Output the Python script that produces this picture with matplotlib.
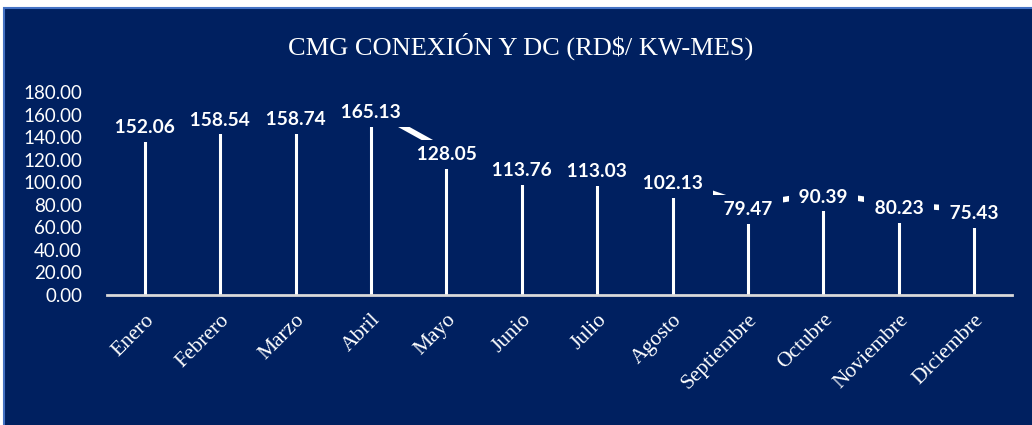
import matplotlib
matplotlib.use("Agg")
import matplotlib.pyplot as plt
from matplotlib.patches import Rectangle

meses = ["Enero", "Febrero", "Marzo", "Abril", "Mayo", "Junio", "Julio",
         "Agosto", "Septiembre", "Octubre", "Noviembre", "Diciembre"]
valores = [152.06, 158.54, 158.74, 165.13, 128.05, 113.76, 113.03,
           102.13, 79.47, 90.39, 80.23, 75.43]
yticks = [0, 20, 40, 60, 80, 100, 120, 140, 160, 180]

navy = "#002060"

fig = plt.figure(figsize=(10.32, 4.25), dpi=100, facecolor="white")
# fondo del area del grafico con borde azul
fondo = Rectangle((4 / 1032, -0.01), 1.0, (425 - 8) / 425 + 0.01,
                  transform=fig.transFigure, facecolor=navy,
                  edgecolor="#4472C4", linewidth=1.5, zorder=-5)
fig.patches.append(fondo)

ax = fig.add_axes([107 / 1032, (425 - 295) / 425, 905 / 1032, 203 / 425])
ax.set_zorder(2)
ax.set_facecolor("none")
x = list(range(len(meses)))

# linea y lineas de caida
ax.plot(x, valores, color="white", lw=4, zorder=2, solid_capstyle="butt")
ax.vlines(x, 0, valores, color="white", lw=2.2, zorder=2)

for xi, v in zip(x, valores):
    ax.annotate(" %.2f " % v, (xi, v), xytext=(0, -4), textcoords="offset pixels",
                ha="center", va="center", color="white", fontsize=13.8,
                fontweight="bold", family="Lato", zorder=4,
                bbox=dict(boxstyle="square,pad=0.3", facecolor=navy, edgecolor="none"))

ax.set_xlim(-0.5, len(meses) - 0.5)
ax.set_ylim(0, 180)
ax.set_yticks(yticks)
ax.set_yticklabels(["%.2f" % t for t in yticks], color="white", fontsize=13.5, family="Lato")
ax.set_xticks(x)
ax.set_xticklabels(meses, rotation=45, ha="right", va="top", color="white",
                   fontsize=15.5, family="Liberation Serif", rotation_mode="anchor")
ax.tick_params(axis="both", length=0)
ax.tick_params(axis="x", pad=11)
ax.tick_params(axis="y", pad=18)
for s in ["top", "right", "left"]:
    ax.spines[s].set_visible(False)
ax.spines["bottom"].set_color("#D9D9D9")
ax.spines["bottom"].set_linewidth(2)
ax.spines["bottom"].set_zorder(3)

fig.text(521 / 1032, (425 - 46) / 425, "CMG CONEXIÓN Y DC (RD$/ KW-MES)",
         ha="center", va="center", color="white", fontsize=19, family="Liberation Serif")

fig.savefig("out.png", dpi=100, facecolor="white")
